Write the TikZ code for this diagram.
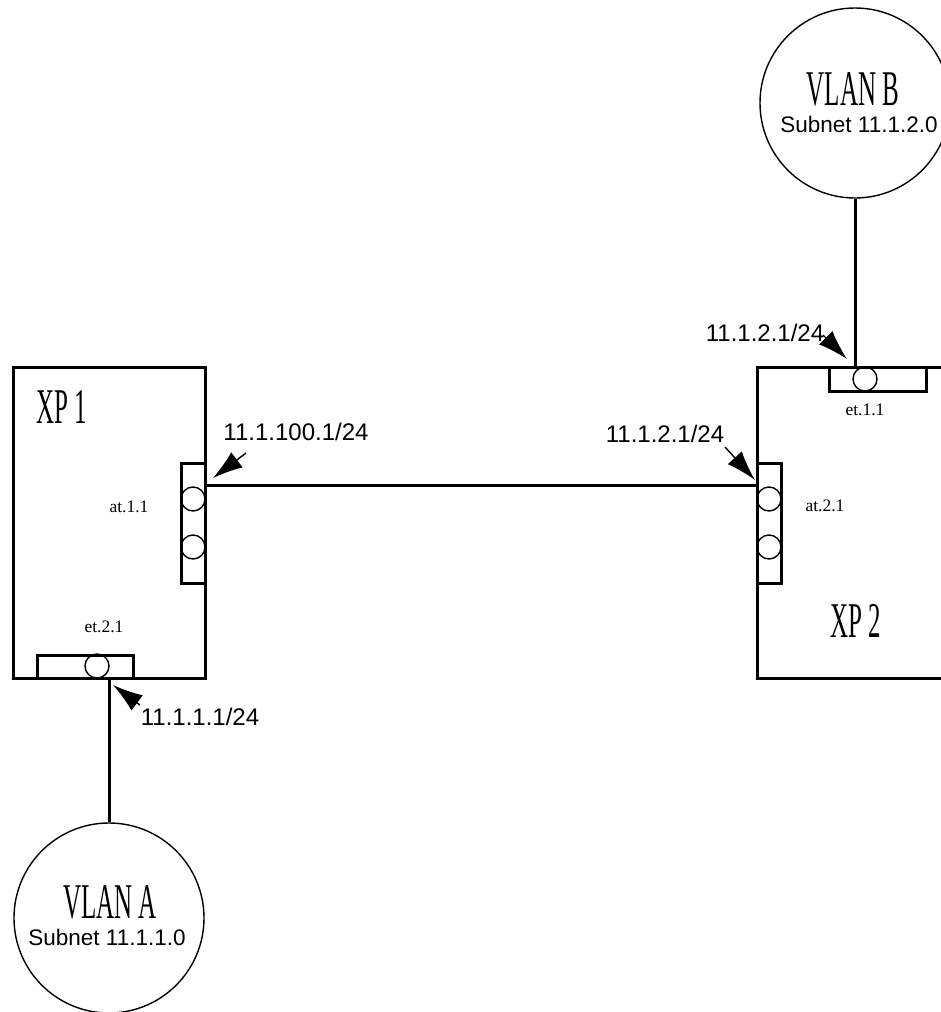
\documentclass[tikz,border=0pt]{standalone}
\usepackage{fontspec}
\setmainfont{Liberation Serif}
\newfontfamily\narrowserif[FakeStretch=0.5]{Liberation Serif}
\newfontfamily\ipsans{Liberation Sans}
\usetikzlibrary{arrows.meta}

\tikzset{
  box/.style={draw,rectangle,line width=3pt,inner sep=0pt},
  portbox/.style={draw,rectangle,line width=3pt,inner sep=0pt},
  hole/.style={draw,circle,line width=1.4pt,minimum size=24pt,inner sep=0pt},
  vlan/.style={draw,circle,line width=1.4pt,minimum size=190pt,inner sep=0pt},
  wire/.style={line width=3pt},
  pin/.style={-{Latex[length=30pt,width=19pt]},line width=1.4pt},
  ip/.style={font=\ipsans\fontsize{24}{24}\selectfont,inner sep=0pt},
  subnet/.style={font=\ipsans\fontsize{22.5}{24}\selectfont,inner sep=0pt},
  xp/.style={font=\narrowserif\fontsize{50}{50}\selectfont,inner sep=0pt},
  tag/.style={font=\fontsize{17.5}{17.5}\selectfont,inner sep=0pt}
}

\begin{document}
\begin{tikzpicture}[x=1pt,y=-1pt]
\useasboundingbox (0,0) rectangle (941,1012);
\clip (0,0) rectangle (941,1012);

% routers
\node[box,minimum width=192pt,minimum height=311pt] (xp1) at (109,522.5) {};
\node[box,minimum width=243pt,minimum height=311pt] (xp2) at (878.5,522.5) {};
\node[xp] (xp1name) at (62,407) {XP 1};
\node[xp] (xp2name) at (856,621) {XP 2};

% ports of XP 1
\node[portbox,minimum width=24pt,minimum height=120pt] (at11) at (193,523) {};
\node[hole] (at11a) at (193,499) {};
\node[hole] (at11b) at (193,547) {};
\node[tag] (at11name) at (129,507) {at.1.1};
\node[portbox,minimum width=96pt,minimum height=23pt] (et21) at (85,666.5) {};
\node[hole] (et21a) at (97,666) {};
\node[tag] (et21name) at (104,627) {et.2.1};

% ports of XP 2
\node[portbox,minimum width=24pt,minimum height=120pt] (at21) at (769,523) {};
\node[hole] (at21a) at (769,499) {};
\node[hole] (at21b) at (769,547) {};
\node[tag] (at21name) at (825,506) {at.2.1};
\node[portbox,minimum width=97pt,minimum height=24pt] (et11) at (877.5,379) {};
\node[hole] (et11a) at (865,379) {};
\node[tag] (et11name) at (865,410) {et.1.1};

% vlans
\node[vlan] (vlanA) at (109,918) {};
\node[xp] (vlanAname) at (110,902) {VLAN A};
\node[subnet] (vlanAnet) at (107,937) {Subnet 11.1.1.0};
\node[vlan] (vlanB) at (855,103) {};
\node[xp] (vlanBname) at (853,89) {VLAN B};
\node[subnet] (vlanBnet) at (859,124) {Subnet 11.1.2.0};

% links
\draw[wire] (at11.north east) ++(0,24) coordinate (trunk1) -- (at21.west |- trunk1);
\draw[wire] (xp1.south) -- (vlanA.north);
\draw[wire] (vlanB.south) -- (vlanB.south |- xp2.north);

% addresses
\node[ip] (ip1) at (296,432) {11.1.100.1/24};
\node[ip] (ip2) at (665,434) {11.1.2.1/24};
\node[ip] (ip3) at (765,333) {11.1.2.1/24};
\node[ip] (ip4) at (200,717) {11.1.1.1/24};
\coordinate (tail1) at (246,453); \coordinate (tip1) at (213,478);
\coordinate (tail2) at (725,447); \coordinate (tip2) at (755,480);
\coordinate (tail3) at (823,335); \coordinate (tip3) at (847,359);
\coordinate (tail4) at (140,705); \coordinate (tip4) at (113,685);
\draw[pin] (tail1) -- (tip1);
\draw[pin] (tail2) -- (tip2);
\draw[pin] (tail3) -- (tip3);
\draw[pin] (tail4) -- (tip4);

\end{tikzpicture}
\end{document}
